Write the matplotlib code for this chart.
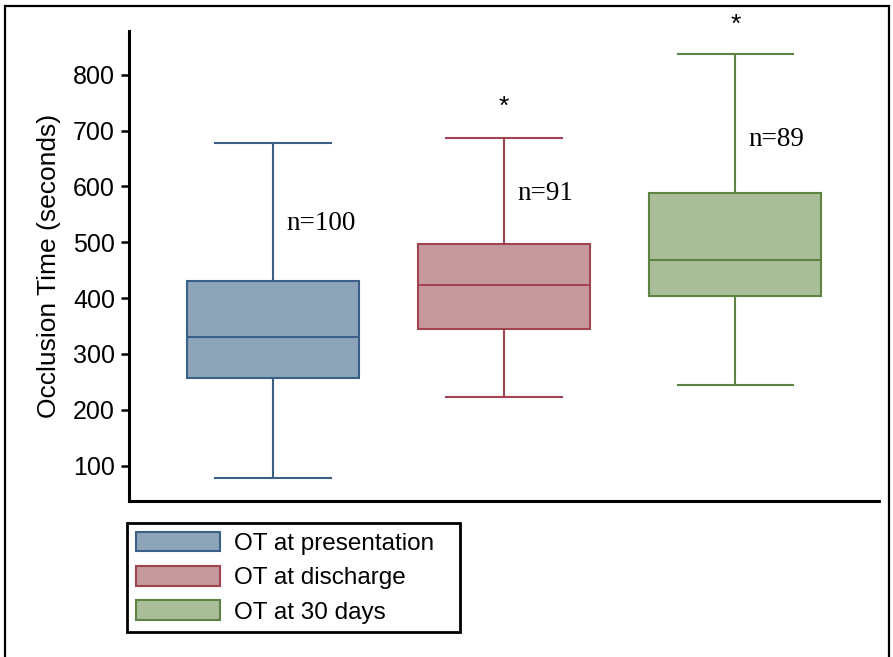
import matplotlib
matplotlib.use("Agg")
import matplotlib.pyplot as plt
from matplotlib.patches import Patch, Rectangle

# summary values (seconds)
groups = ["OT at presentation", "OT at discharge", "OT at 30 days"]
whisker_low = [77, 222, 245]
q1 = [256, 345, 404]
median = [331, 424, 469]
q3 = [431, 497, 589]
whisker_high = [678, 687, 838]
n_labels = ["n=100", "n=91", "n=89"]
n_label_y = [533, 587, 684]
star_groups = [2, 3]
star_y = [742, 889]
yticks = [100, 200, 300, 400, 500, 600, 700, 800]

fills = ["#8da4b9", "#c59a9e", "#aabd99"]
edges = ["#3b5f87", "#a1444f", "#5d8443"]

plt.rcParams["font.family"] = ["Liberation Sans", "DejaVu Sans"]

fig = plt.figure(figsize=(8.93, 6.57), dpi=100)
ax = fig.add_axes([129 / 893, 1 - 500.7 / 657, 750 / 893, 470 / 657])

stats = [
    {"whislo": lo, "q1": a, "med": m, "q3": b, "whishi": hi, "fliers": []}
    for lo, a, m, b, hi in zip(whisker_low, q1, median, q3, whisker_high)
]
positions = [1, 2, 3]
bp = ax.bxp(stats, positions=positions, widths=0.745, capwidths=0.5,
            patch_artist=True, showfliers=False)
for i, box in enumerate(bp["boxes"]):
    box.set_facecolor(fills[i])
    box.set_edgecolor(edges[i])
    box.set_linewidth(1.5)
    bp["medians"][i].set_color(edges[i])
    bp["medians"][i].set_linewidth(1.5)
    for k in (2 * i, 2 * i + 1):
        bp["whiskers"][k].set_color(edges[i])
        bp["whiskers"][k].set_linewidth(1.5)
        bp["caps"][k].set_color(edges[i])
        bp["caps"][k].set_linewidth(1.5)

for pos, txt, y in zip(positions, n_labels, n_label_y):
    ax.text(pos + 0.055, y, txt, family="Liberation Serif", fontsize=19.5,
            ha="left", va="center")
for g, y in zip(star_groups, star_y):
    ax.text(g, y, "*", fontsize=19, ha="center", va="center", clip_on=False)

ax.set_xlim(0.376, 3.622)
ax.set_ylim(37, 879)
ax.set_yticks(yticks)
ax.set_xticks([])
ax.tick_params(axis="y", labelsize=18, length=6, width=1.8, pad=4)
ax.set_ylabel("Occlusion Time (seconds)", fontsize=19, labelpad=9)
for side in ("top", "right"):
    ax.spines[side].set_visible(False)
for side in ("left", "bottom"):
    ax.spines[side].set_linewidth(2.2)

handles = [Patch(facecolor=f, edgecolor=e, linewidth=1.5) for f, e in zip(fills, edges)]
leg = fig.legend(handles, groups, loc="upper left", mode="expand",
                 bbox_to_anchor=(127 / 893, 1 - 633 / 657, 333 / 893, 110 / 657),
                 borderaxespad=0,
                 fontsize=17.5, handlelength=3.45, handleheight=0.86,
                 handletextpad=0.58, labelspacing=0.46, borderpad=0.36,
                 fancybox=False, edgecolor="black", framealpha=1)
leg.get_frame().set_linewidth(2)

# outer frame around the figure
fig.patches.append(Rectangle((5 / 893, -0.05), 884 / 893, 1.05 - 6 / 657,
                             transform=fig.transFigure, fill=False,
                             edgecolor="black", linewidth=1.6))

fig.savefig("out.png", dpi=100)
